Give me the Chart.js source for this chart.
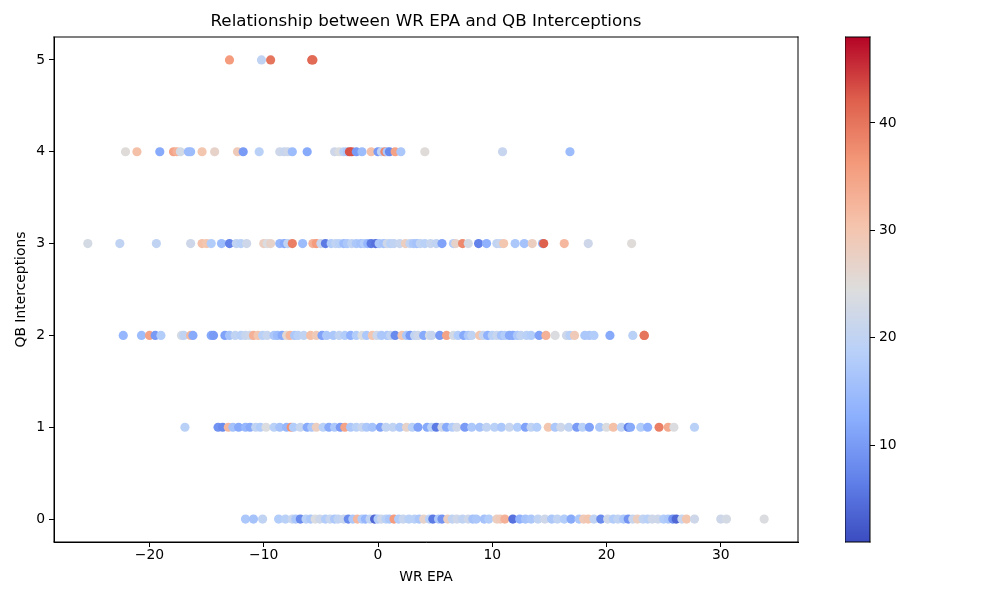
<!DOCTYPE html>
<html>
<head>
<meta charset="utf-8">
<script src="https://cdn.jsdelivr.net/npm/chart.js@4/dist/chart.umd.min.js"></script>
<style>
  html, body { margin: 0; padding: 0; background: #fff; }
  #wrap { position: relative; width: 1000px; height: 600px; }
  #mainChart { position: absolute; left: 0; top: 0; }
  #barChart { position: absolute; left: 845px; top: 0; }
</style>
</head>
<body>
<div id="wrap">
  <canvas id="mainChart" width="1000" height="600"></canvas>
  <canvas id="barChart" width="80" height="600"></canvas>
</div>
<script>
// WR EPA values and colour values (third variable), one pair of arrays per interception count
var epaInt5 = [-13.0, -10.2, -9.4, -5.8, -5.7];
var valInt5 = [36, 20, 40, 42, 41];

var epaInt4 = [-22.1, -21.1, -19.1, -17.9, -17.6, -17.3, -16.6, -16.4, -15.4, -14.3, -12.3, -11.8, -10.4, -8.6, -8.2, -7.9, -7.5, -6.2,
  -3.8, -3.4, -3.0, -2.7, -2.5, -2.3, -1.9, -1.4, -0.6, 0.0, 0.3, 0.6, 0.8, 1.0, 1.5, 2.0, 4.1, 10.9, 16.8];
var valInt4 = [25, 31, 12, 35, 33, 23, 15, 15, 30, 27, 29, 10, 19, 22, 21, 22, 15, 12,
  22, 24, 19, 17, 43, 43, 10, 15, 31, 10, 20, 38, 17, 8, 35, 17, 25, 21, 15];

var epaInt3 = [-25.4, -22.6, -19.4, -16.4, -15.4, -15.0, -14.6, -13.7, -13.0, -12.4, -12.0, -11.5, -10.0, -9.7, -9.4, -8.6, -8.2, -7.9,
  -7.5, -6.6, -5.7, -5.4, -5.0, -4.6, -4.1, -3.7, -3.4, -3.0, -2.7, -2.3, -1.9, -1.5, -1.2, -0.9, -0.6, -0.2, 0.1, 0.5, 0.8, 1.1,
  1.4, 1.9, 2.4, 2.8, 3.1, 3.4, 3.7, 4.1, 4.6, 5.1, 5.6, 6.6, 6.8, 7.4, 7.9, 8.8, 9.5, 10.4, 10.7, 11.0, 12.0, 12.8, 13.5, 14.4,
  14.5, 16.3, 18.4, 22.2];
var valInt3 = [23, 20, 20, 22, 31, 30, 18, 15, 7, 20, 19, 22, 28, 24, 27, 14, 12, 20,
  39, 15, 33, 36, 21, 6, 18, 20, 19, 15, 17, 20, 17, 16, 18, 14, 6, 5, 17, 16, 22, 19,
  20, 21, 28, 20, 17, 16, 20, 19, 21, 20, 11, 18, 27, 38, 23, 7, 13, 20, 21, 30, 17, 16, 28, 14,
  42, 32, 22, 25];

var epaInt2 = [-22.3, -20.7, -20.0, -19.5, -19.0, -17.2, -17.0, -16.4, -16.2, -14.6, -14.4, -13.4, -13.0, -12.5, -12.0, -11.6, -11.2,
  -10.9, -10.5, -10.1, -9.7, -9.1, -8.8, -8.4, -8.0, -7.7, -7.3, -7.0, -6.5, -5.9, -5.4, -4.9, -4.5, -3.9, -3.4, -2.9, -2.4, -1.9,
  -1.4, -1.0, -0.5, -0.1, 0.3, 0.8, 1.1, 1.5, 2.1, 2.5, 2.8, 3.2, 3.5, 4.0, 4.5, 4.7, 5.4, 6.0, 6.6, 7.0, 7.5, 7.9, 8.2, 8.9, 9.2,
  9.6, 10.0, 10.4, 10.8, 11.1, 11.5, 11.8, 12.2, 12.5, 13.0, 13.4, 14.1, 14.7, 15.5, 16.5, 16.8, 17.2, 18.1, 18.5, 18.9, 20.3,
  22.3, 23.3, 23.3];
var valInt2 = [14, 15, 35, 10, 18, 23, 20, 32, 12, 12, 10, 11, 16, 20, 19, 21, 22,
  33, 30, 19, 21, 17, 15, 12, 26, 32, 17, 19, 20, 31, 29, 11, 17, 17, 20, 18, 13, 18,
  24, 17, 30, 22, 17, 17, 20, 8, 30, 17, 10, 20, 22, 12, 23, 21, 10, 35, 23, 18, 12, 17, 20, 30, 21,
  13, 19, 21, 16, 18, 12, 12, 17, 20, 19, 18, 11, 33, 24, 22, 19, 29, 17, 17, 18, 12,
  19, 39, 40];

var epaInt1 = [-16.9, -14.0, -13.6, -13.1, -12.7, -12.2, -11.6, -11.2, -10.7, -10.3, -9.8, -9.1, -8.6, -8.0, -7.6, -7.4, -6.8, -6.2,
  -5.8, -5.4, -4.8, -4.3, -3.8, -3.3, -2.9, -2.4, -1.9, -1.4, -1.0, -0.5, 0.2, 0.7, 1.3, 1.9, 2.5, 3.0, 3.5, 4.3, 4.7, 5.1, 5.6,
  6.0, 6.5, 6.9, 7.6, 8.2, 8.9, 9.5, 10.2, 10.8, 11.5, 12.2, 12.9, 13.4, 13.9, 14.9, 15.5, 16.0, 16.7, 17.4, 17.9, 18.5, 19.4,
  20.0, 20.6, 21.3, 21.9, 22.1, 23.0, 23.6, 24.6, 25.4, 25.9, 27.7];
var valInt1 = [19, 9, 8, 32, 16, 12, 14, 12, 20, 18, 24, 19, 16, 14, 37, 18, 21, 12,
  17, 28, 19, 12, 17, 10, 35, 17, 19, 21, 17, 16, 11, 20, 20, 17, 27, 19, 11, 12, 19, 6, 22,
  12, 18, 22, 10, 17, 16, 20, 19, 17, 21, 18, 11, 20, 18, 30, 17, 22, 20, 10, 19, 11, 17,
  24, 31, 20, 7, 12, 18, 13, 39, 34, 24, 19];

var epaInt0 = [-11.6, -10.9, -10.1, -8.7, -8.1, -7.5, -7.2, -6.8, -6.3, -5.9, -5.5, -5.1, -4.6, -4.2, -3.8, -3.5, -3.0, -2.6,
  -2.2, -1.8, -1.4, -1.1, -0.7, -0.3, 0.0, 0.3, 0.7, 1.0, 1.4, 1.8, 2.2, 2.7, 3.2, 3.6, 4.0, 4.5, 4.8, 5.3, 5.6, 6.1, 6.5, 6.9,
  7.4, 7.9, 8.3, 8.6, 9.3, 9.7, 10.4, 10.7, 11.1, 11.8, 12.4, 12.9, 13.4, 14.0, 14.6, 15.2, 15.7, 16.3, 16.9, 17.6, 18.0, 18.4,
  18.9, 19.5, 20.1, 20.6, 21.0, 21.5, 21.9, 22.3, 22.7, 23.2, 23.6, 24.0, 24.5, 25.0, 25.4, 25.8, 26.1, 26.6, 27.0, 27.7,
  30.0, 30.5, 33.8];
var valInt0 = [17, 16, 20, 18, 19, 21, 17, 8, 19, 17, 24, 22, 18, 21, 17, 20, 21, 8,
  17, 32, 18, 14, 20, 4, 18, 22, 19, 17, 36, 18, 21, 19, 19, 17, 27, 19, 6, 17, 9, 28, 20, 22,
  20, 22, 16, 17, 16, 18, 28, 29, 33, 5, 13, 16, 17, 20, 22, 17, 20, 18, 12, 17, 29, 30,
  20, 8, 22, 18, 20, 17, 9, 21, 28, 20, 19, 22, 22, 18, 17, 9, 4, 21, 30, 22,
  22, 23, 24];

var xTicks = [-20, -10, 0, 10, 20, 30];
var yTicks = [0, 1, 2, 3, 4, 5];
var barTicks = [10, 20, 30, 40];
var colorMin = 1;
var colorMax = 48;

// approximate matplotlib "coolwarm"
var coolwarm = [
  [0.0, 59, 76, 192], [0.125, 98, 130, 234], [0.25, 141, 176, 254], [0.375, 184, 208, 249],
  [0.5, 221, 221, 221], [0.625, 245, 196, 173], [0.75, 244, 154, 123], [0.875, 222, 96, 77], [1.0, 180, 4, 38]
];
function cmap(t) {
  t = Math.max(0, Math.min(1, t));
  for (var i = 1; i < coolwarm.length; i++) {
    if (t <= coolwarm[i][0]) {
      var a = coolwarm[i - 1], b = coolwarm[i];
      var f = (t - a[0]) / (b[0] - a[0]);
      return 'rgb(' + Math.round(a[1] + (b[1] - a[1]) * f) + ',' + Math.round(a[2] + (b[2] - a[2]) * f) + ',' + Math.round(a[3] + (b[3] - a[3]) * f) + ')';
    }
  }
}
function colorOf(v) { return cmap((v - colorMin) / (colorMax - colorMin)); }

var points = [], colors = [];
[[epaInt0, valInt0, 0], [epaInt1, valInt1, 1], [epaInt2, valInt2, 2], [epaInt3, valInt3, 3], [epaInt4, valInt4, 4], [epaInt5, valInt5, 5]]
  .forEach(function (row) {
    row[0].forEach(function (x, i) {
      points.push({ x: x, y: row[2] });
      colors.push(colorOf(row[1][i]));
    });
  });

var font = { family: "'DejaVu Sans', sans-serif", size: 13.9 };
function minus(v) { return v < 0 ? '\u2212' + Math.abs(v) : String(v); }

// box round the plot area (all four sides) and the title centred over it
function drawFrame(chart, title) {
  var ca = chart.chartArea, ctx = chart.ctx;
  var l = Math.round(ca.left), t = Math.round(ca.top), r = Math.round(ca.right), b = Math.round(ca.bottom);
  ctx.save();
  ctx.globalAlpha = 1;
  ctx.fillStyle = '#000';
  ctx.fillRect(l - 0.5, t - 0.5, r - l + 1, 1);
  ctx.fillRect(l - 0.5, b - 0.5, r - l + 1, 1);
  ctx.fillRect(l - 0.5, t - 0.5, 1, b - t + 1);
  ctx.fillRect(r - 0.5, t - 0.5, 1, b - t + 1);
  if (title) {
    ctx.font = "16.7px 'DejaVu Sans', sans-serif";
    ctx.textAlign = 'center';
    ctx.textBaseline = 'middle';
    ctx.fillText(title, (ca.left + ca.right) / 2, 22);
  }
  ctx.restore();
}

var mainChart = new Chart(document.getElementById('mainChart'), {
  type: 'scatter',
  data: {
    datasets: [{
      data: points,
      backgroundColor: colors,
      borderWidth: 0,
      pointRadius: 4.6,
      pointHoverRadius: 4.6
    }]
  },
  options: {
    responsive: false,
    animation: false,
    layout: { padding: { left: 0, right: 202, top: 37, bottom: 0 } },
    plugins: {
      legend: { display: false },
      tooltip: { enabled: false }
    },
    scales: {
      x: {
        type: 'linear',
        min: -28.36,
        max: 36.76,
        afterBuildTicks: function (s) { s.ticks = xTicks.map(function (v) { return { value: v }; }); },
        afterFit: function (s) { s.height = 58; },
        grid: { drawOnChartArea: false, tickLength: 5, color: '#000' },
        border: { color: '#000' },
        ticks: { font: font, color: '#000', padding: 0, maxRotation: 0, callback: minus },
        title: { display: true, text: 'WR EPA', font: font, color: '#000', padding: { top: 0, bottom: 14 } }
      },
      y: {
        type: 'linear',
        min: -0.25,
        max: 5.25,
        afterBuildTicks: function (s) { s.ticks = yTicks.map(function (v) { return { value: v }; }); },
        afterFit: function (s) { s.width = 54; },
        grid: { drawOnChartArea: false, tickLength: 5, color: '#000' },
        border: { color: '#000' },
        ticks: { font: font, color: '#000', padding: 4, callback: minus },
        title: { display: true, text: 'QB Interceptions', font: font, color: '#000', padding: { top: 13, bottom: 0 } }
      }
    }
  },
  plugins: [{
    id: 'mainFrame',
    afterDraw: function (chart) { drawFrame(chart, 'Relationship between WR EPA and QB Interceptions'); }
  }]
});

// colour bar: a gradient in the chart area of a second chart, its y axis gives the ticks
var barChart = new Chart(document.getElementById('barChart'), {
  type: 'scatter',
  data: { datasets: [] },
  options: {
    responsive: false,
    animation: false,
    layout: { padding: { left: 0, right: 15, top: 37, bottom: 58 } },
    plugins: { legend: { display: false }, tooltip: { enabled: false } },
    scales: {
      x: { display: false, min: 0, max: 1 },
      y: {
        position: 'right',
        min: colorMin,
        max: colorMax,
        afterBuildTicks: function (s) { s.ticks = barTicks.map(function (v) { return { value: v }; }); },
        afterFit: function (s) { s.width = 40; },
        grid: { drawOnChartArea: false, tickLength: 5, color: '#000' },
        border: { display: false },
        ticks: { font: font, color: '#000', padding: 4 }
      }
    }
  },
  plugins: [{
    id: 'gradientBar',
    beforeDraw: function (chart) {
      var ca = chart.chartArea, ctx = chart.ctx, y = chart.scales.y;
      ctx.save();
      for (var py = Math.floor(ca.top); py < Math.ceil(ca.bottom); py++) {
        ctx.fillStyle = colorOf(y.getValueForPixel(py + 0.5));
        ctx.fillRect(ca.left, py, ca.right - ca.left, 1);
      }
      ctx.restore();
    },
    afterDraw: function (chart) { drawFrame(chart, null); }
  }]
});
</script>
</body>
</html>
